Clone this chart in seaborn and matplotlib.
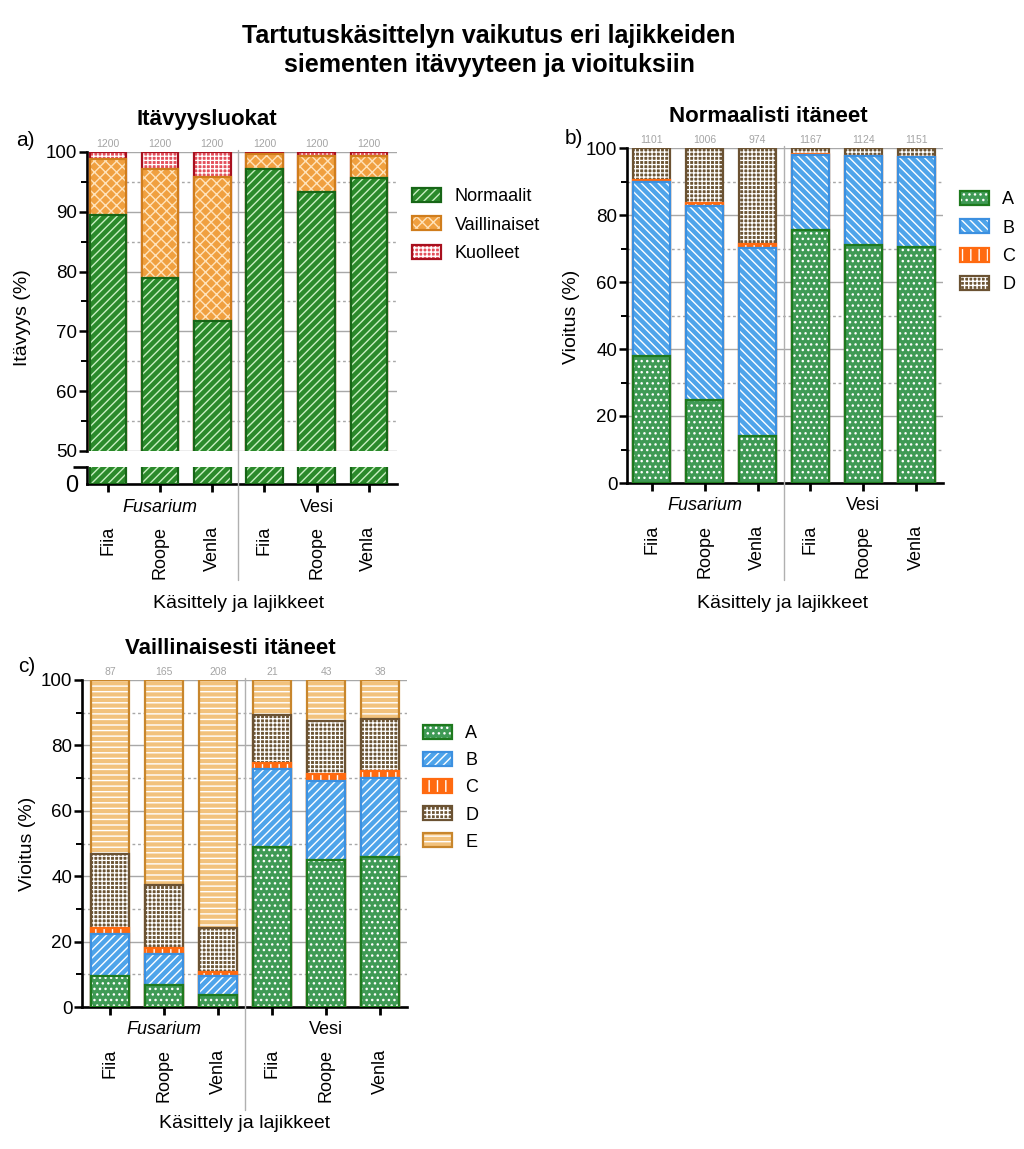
import numpy as np
import pandas as pd
import seaborn as sns
import matplotlib
matplotlib.use("Agg")
import matplotlib.pyplot as plt
from matplotlib.colors import to_rgba
from matplotlib.patches import Patch
from matplotlib.lines import Line2D
import matplotlib.transforms as mtrans
from matplotlib.ticker import MultipleLocator, FixedLocator

sns.set_theme(style="white")
plt.rcParams["font.family"] = ["Liberation Sans", "DejaVu Sans"]
plt.rcParams["hatch.linewidth"] = 1.0
for k in ["text.color", "axes.labelcolor", "xtick.color", "ytick.color"]:
    plt.rcParams[k] = "black"

# ---------------- data ----------------
treatments = ["Fusarium"] * 3 + ["Vesi"] * 3
varieties = ["Fiia", "Roope", "Venla", "Fiia", "Roope", "Venla"]
keys = [f"{t} {v}" for t, v in zip(treatments, varieties)]

# a) Itävyysluokat (%)
a_normaalit = [89.5, 78.9, 71.8, 97.2, 93.3, 95.7]
a_vaillinaiset = [9.4, 18.3, 24.1, 2.5, 6.0, 3.7]
a_kuolleet = [1.1, 2.8, 4.1, 0.3, 0.7, 0.6]
a_n = [1200, 1200, 1200, 1200, 1200, 1200]
a_labels = ["Normaalit", "Vaillinaiset", "Kuolleet"]

# b) Normaalisti itäneet (%)
b_A = [37.8, 24.7, 13.9, 75.4, 71.1, 70.3]
b_B = [52.2, 58.1, 56.2, 22.6, 26.4, 27.0]
b_C = [0.5, 0.8, 1.3, 0.1, 0.1, 0.1]
b_D = [9.5, 16.4, 28.6, 1.9, 2.4, 2.6]
b_n = [1101, 1006, 974, 1167, 1124, 1151]

# c) Vaillinaisesti itäneet (%)
c_A = [9.5, 6.6, 3.6, 49.0, 44.9, 45.9]
c_B = [12.7, 9.5, 5.9, 23.7, 24.2, 24.2]
c_C = [2.0, 1.8, 1.2, 2.0, 2.3, 2.1]
c_D = [22.5, 19.3, 13.5, 14.5, 16.2, 15.8]
c_E = [53.3, 62.8, 75.8, 10.8, 12.4, 12.0]
c_n = [87, 165, 208, 21, 43, 38]

# ---------------- styles ----------------
ST_NORM = dict(fc="#2b8a2b", ec="#176617", hc="#c9efc2", hatch="////", hlw=1.0)
ST_VAIL = dict(fc="#f0a040", ec="#d07d1c", hc="#ffe3bb", hatch="xxx", hlw=1.0)
ST_KUOL = dict(fc="#e4505c", ec="#a8101e", hc="#ffffff", hatch="++++", hlw=0.9)
ST_A = dict(fc="#3f9a55", ec="#1e7a1e", hc="#ffffff", hatch="...", hlw=1.0)
ST_B_b = dict(fc="#4ea4ea", ec="#3c90e0", hc="#ffffff", hatch="\\\\\\\\", hlw=1.0)
ST_B_c = dict(fc="#4ea4ea", ec="#3c90e0", hc="#ffffff", hatch="////", hlw=1.0)
ST_C = dict(fc="#ff6a10", ec="#ff6a10", hc="#ffffff", hatch="||", hlw=1.0)
ST_D = dict(fc="#6c5535", ec="#6b5232", hc="#ffffff", hatch="++++", hlw=0.9)
ST_E = dict(fc="#f2c27c", ec="#c8862c", hc="#ffffff", hatch="---", hlw=1.0)

GRID = "#a8a8a8"
W = 1024
H = 1149


def fx(px):
    return px / W


def fy(py):
    return 1 - py / H


fig = plt.figure(figsize=(10.24, 11.49), dpi=100)


def set_hatch_style(p, st):
    p._hatch_color = to_rgba(st["hc"])
    if hasattr(p, "set_hatch_linewidth"):
        try:
            p.set_hatch_linewidth(st["hlw"])
        except Exception:
            pass


def stacked(ax, series, styles, width=0.7, lw=1.6):
    cum = np.cumsum(np.array(series, dtype=float), axis=0)
    for i in reversed(range(len(series))):
        st = styles[i]
        df = pd.DataFrame({"key": keys, "val": cum[i]})
        before = len(ax.patches)
        sns.barplot(data=df, x="key", y="val", order=keys, color=st["fc"],
                    saturation=1, width=width, edgecolor=st["ec"], linewidth=lw,
                    hatch=st["hatch"], ax=ax, zorder=3, errorbar=None)
        for p in ax.patches[before:]:
            set_hatch_style(p, st)
    ax.set_xlabel("")
    ax.set_ylabel("")


def style_axes(ax, major, minor, ylim, xlim):
    ax.set_ylim(*ylim)
    ax.set_xlim(*xlim)
    ax.yaxis.set_major_locator(MultipleLocator(major))
    ax.yaxis.set_minor_locator(MultipleLocator(minor))
    ax.set_axisbelow(True)
    ax.grid(False)
    ax.yaxis.grid(True, which="major", color=GRID, lw=1.0, ls="-")
    ax.yaxis.grid(True, which="minor", color=GRID, lw=1.0, ls=(0, (2, 2)))
    for s in ["top", "right"]:
        ax.spines[s].set_visible(False)
    for s in ["left", "bottom"]:
        ax.spines[s].set_linewidth(1.9)
        ax.spines[s].set_color("black")
    ax.tick_params(axis="y", which="major", direction="out", length=6, width=1.8,
                   color="black", labelsize=13.5, pad=1, left=True)
    ax.tick_params(axis="y", which="minor", direction="out", length=4, width=1.4,
                   color="black", left=True)
    ax.set_facecolor("none")


def xlabels(ax, ax_bottom_px):
    ax.set_xticks(range(6))
    ax.set_xticklabels(varieties, rotation=90, fontsize=13, va="top", ha="center")
    ax.tick_params(axis="x", direction="out", length=6, width=2.0, color="black",
                   pad=24, bottom=True)
    tr = mtrans.blended_transform_factory(ax.transData, fig.transFigure)
    fig.text(1, fy(ax_bottom_px + 23), "Fusarium", style="italic", fontsize=13,
             ha="center", va="center", transform=tr)
    fig.text(4, fy(ax_bottom_px + 23), "Vesi", fontsize=13,
             ha="center", va="center", transform=tr)


def separator(ax, top_px, bottom_px):
    tr = mtrans.blended_transform_factory(ax.transData, fig.transFigure)
    fig.add_artist(Line2D([2.5, 2.5], [fy(top_px), fy(bottom_px)], transform=tr,
                          color="#b0b0b0", lw=1.0, zorder=1))


def counts(ax, ns, top):
    for i, n in enumerate(ns):
        ax.annotate(str(n), (i, top), xytext=(0, 2.5), textcoords="offset points",
                    ha="center", va="bottom", fontsize=7.5, color="#a4a4a4",
                    annotation_clip=False)


def legend(handles_styles, labels, x_px, y_px, spacing=0.62):
    hs = []
    for st in handles_styles:
        p = Patch(facecolor=st["fc"], edgecolor=st["ec"], hatch=st["hatch"], lw=1.6)
        set_hatch_style(p, st)
        hs.append(p)
    fig.legend(hs, labels, loc="upper left", bbox_to_anchor=(fx(x_px), fy(y_px)),
               bbox_transform=fig.transFigure, frameon=False, fontsize=13,
               handlelength=1.6, handleheight=0.8, handletextpad=0.75,
               labelspacing=spacing, borderpad=0, borderaxespad=0)


# ================= panel a =================
a_left, a_right = 87, 397
a_top, a_mid, a_lowtop, a_bot = 152, 451, 467, 484
ax_a = fig.add_axes([fx(a_left), fy(a_mid), fx(a_right - a_left), (a_mid - a_top) / H])
ax_a0 = fig.add_axes([fx(a_left), fy(a_bot), fx(a_right - a_left), (a_bot - a_lowtop) / H])
a_series = [a_normaalit, a_vaillinaiset, a_kuolleet]
a_styles = [ST_NORM, ST_VAIL, ST_KUOL]
stacked(ax_a, a_series, a_styles)
style_axes(ax_a, 10, 5, (50, 100), (-0.40, 5.54))
ax_a.spines["bottom"].set_visible(False)
ax_a.tick_params(axis="x", bottom=False, labelbottom=False)
counts(ax_a, a_n, 100)

stacked(ax_a0, [a_normaalit], [ST_NORM])
ax_a0.set_ylim(0, 3)
ax_a0.set_xlim(-0.40, 5.54)
ax_a0.set_facecolor("none")
ax_a0.grid(False)
for s in ["top", "right"]:
    ax_a0.spines[s].set_visible(False)
for s in ["left", "bottom"]:
    ax_a0.spines[s].set_linewidth(1.9)
    ax_a0.spines[s].set_color("black")
ax_a0.yaxis.set_major_locator(FixedLocator([0]))
ax_a0.tick_params(axis="y", direction="out", length=0, labelsize=17, pad=6, left=True)
ax_a0.plot([-0.045, 0.0], [1.0, 1.0], transform=ax_a0.transAxes, color="black",
           lw=1.9, clip_on=False, solid_capstyle="butt")
xlabels(ax_a0, a_bot)
separator(ax_a, 150, 580)

fig.text(fx(23), fy(318), "Itävyys (%)", rotation=90, fontsize=14, ha="center", va="center")
fig.text(fx(239), fy(604), "Käsittely ja lajikkeet", fontsize=14, ha="center", va="center")
fig.text(fx(207), fy(120), "Itävyysluokat", fontsize=16, weight="bold", ha="center", va="center")
fig.text(fx(25), fy(140), "a)", fontsize=15, ha="center", va="center")
legend(a_styles, a_labels, 412, 188)

# ================= panel b =================
b_left, b_right, b_top, b_bot = 627, 943, 148, 483
ax_b = fig.add_axes([fx(b_left), fy(b_bot), fx(b_right - b_left), (b_bot - b_top) / H])
b_styles = [ST_A, ST_B_b, ST_C, ST_D]
stacked(ax_b, [b_A, b_B, b_C, b_D], b_styles)
style_axes(ax_b, 20, 10, (0, 100), (-0.47, 5.51))
counts(ax_b, b_n, 100)
xlabels(ax_b, b_bot)
separator(ax_b, 146, 580)
fig.text(fx(572), fy(317), "Vioitus (%)", rotation=90, fontsize=14, ha="center", va="center")
fig.text(fx(783), fy(603), "Käsittely ja lajikkeet", fontsize=14, ha="center", va="center")
fig.text(fx(768), fy(116), "Normaalisti itäneet", fontsize=16, weight="bold", ha="center", va="center")
fig.text(fx(574), fy(138), "b)", fontsize=15, ha="center", va="center")
legend(b_styles, ["A", "B", "C", "D"], 960, 191)

# ================= panel c =================
c_left, c_right, c_top, c_bot = 82, 407, 680, 1007
ax_c = fig.add_axes([fx(c_left), fy(c_bot), fx(c_right - c_left), (c_bot - c_top) / H])
c_styles = [ST_A, ST_B_c, ST_C, ST_D, ST_E]
stacked(ax_c, [c_A, c_B, c_C, c_D, c_E], c_styles)
style_axes(ax_c, 20, 10, (0, 100), (-0.52, 5.50))
counts(ax_c, c_n, 100)
xlabels(ax_c, c_bot)
separator(ax_c, 678, 1110)
fig.text(fx(28), fy(844), "Vioitus (%)", rotation=90, fontsize=14, ha="center", va="center")
fig.text(fx(245), fy(1124), "Käsittely ja lajikkeet", fontsize=14, ha="center", va="center")
fig.text(fx(230), fy(648), "Vaillinaisesti itäneet", fontsize=16, weight="bold", ha="center", va="center")
fig.text(fx(27), fy(666), "c)", fontsize=15, ha="center", va="center")
legend(c_styles, ["A", "B", "C", "D", "E"], 423, 725, spacing=0.55)

# ================= main title =================
fig.text(fx(489), fy(36), "Tartutuskäsittelyn vaikutus eri lajikkeiden", fontsize=18,
         weight="bold", ha="center", va="center")
fig.text(fx(489), fy(65), "siementen itävyyteen ja vioituksiin", fontsize=18,
         weight="bold", ha="center", va="center")

fig.savefig("out.png", dpi=100, facecolor="white")
